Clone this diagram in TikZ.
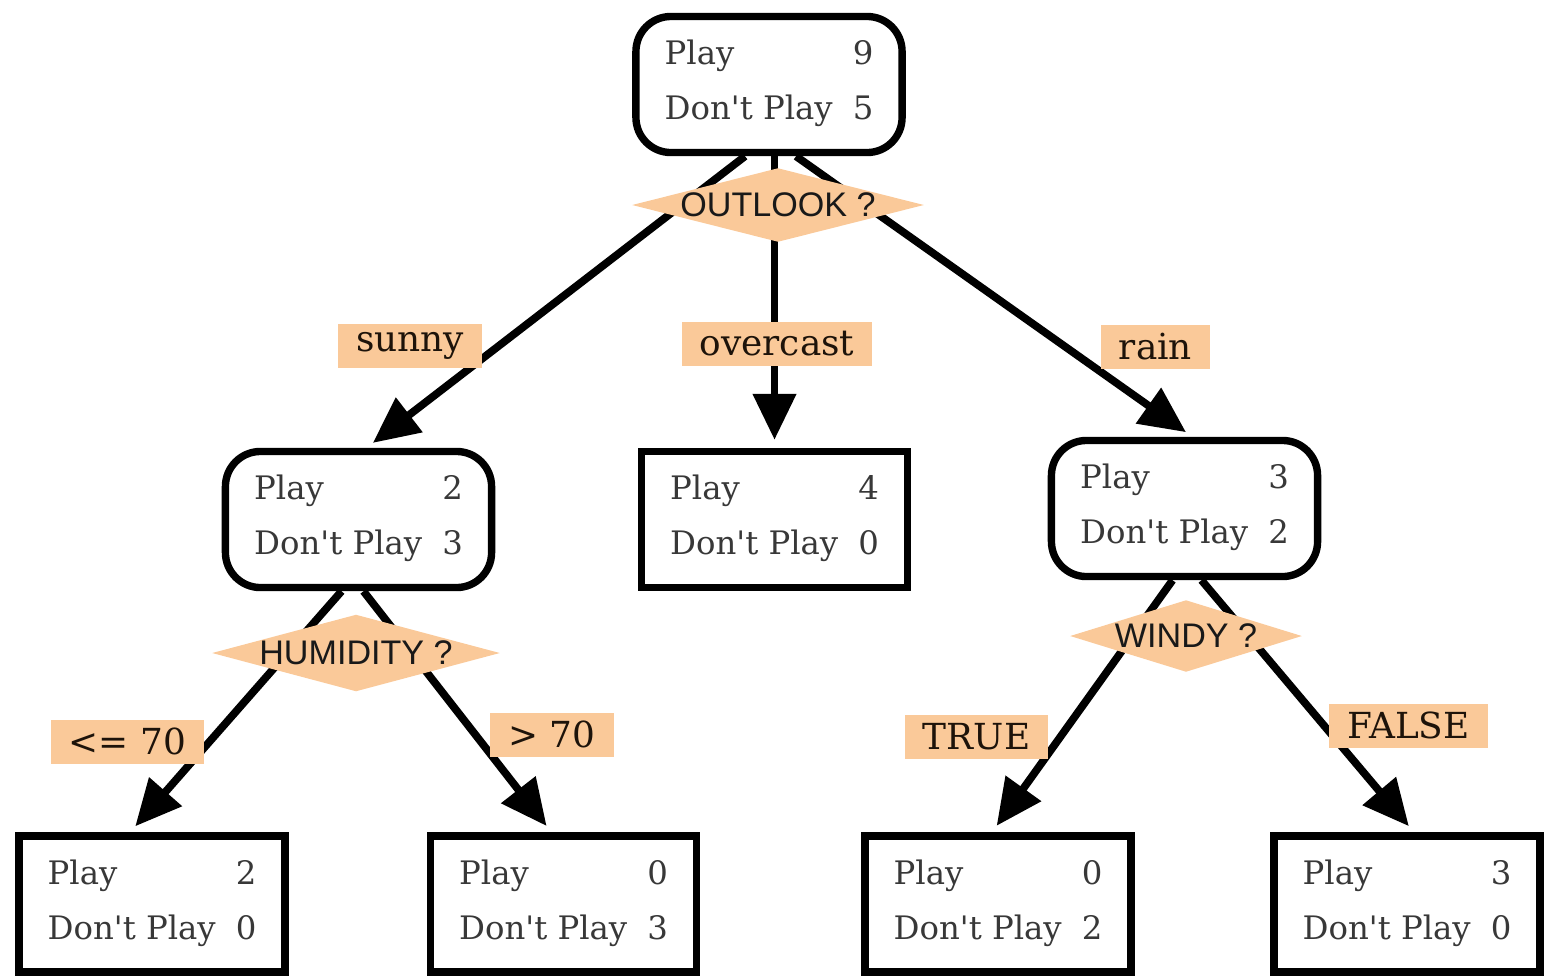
\documentclass[tikz,border=0pt]{standalone}
\usepackage{fontspec}
\setmainfont{DejaVu Serif}
\newfontfamily\choicefont{Liberation Sans}
\usetikzlibrary{shapes.geometric,arrows.meta,calc}
\definecolor{peach}{RGB}{250,201,153}
\newcommand{\tally}[2]{\begin{tabular}{@{}l@{\hspace{0.2cm}}r@{}}Play & #1\\[4.5pt] Don\textquotesingle t Play & #2\end{tabular}}

\begin{document}
\begin{tikzpicture}[x=0.01cm, y=-0.01cm,
    box/.style={draw, line width=2.1pt, minimum width=2.66cm, minimum height=1.36cm, inner sep=0pt, text=black!78, font=\fontsize{9.2}{11}\selectfont},
    split/.style={box, rounded corners=0.35cm},
    test/.style={diamond, fill=peach, inner sep=0pt},
    choice/.style={font=\choicefont\fontsize{9.7}{11}\selectfont, text=black!90},
    cond/.style={fill=peach, inner xsep=0.18cm, inner ysep=0pt, minimum height=0.44cm, text=black!85!brown, font=\fontsize{10.2}{12}\selectfont},
    branch/.style={line width=2.2pt, -{Triangle[length=0.46cm, width=0.42cm]}, shorten >=0.08cm}]
    \useasboundingbox (0,0) rectangle (1546,978);
    % Counts at each node
    \node[split] (root) at (769,84.5) {\tally{9}{5}};
    \node[split] (hl) at (358.5,519.5) {\tally{2}{3}};
    \node[box] (ov) at (774.5,519.5) {\tally{4}{0}};
    \node[split] (rn) at (1184.5,508.5) {\tally{3}{2}};
    \node[box] (l1) at (152,904) {\tally{2}{0}};
    \node[box] (l2) at (563.5,904) {\tally{0}{3}};
    \node[box] (l3) at (998,904) {\tally{0}{2}};
    \node[box] (l4) at (1407,904) {\tally{3}{0}};

    % Branches
    \draw[branch] ($(root.south)+(-24,0)$) -- ($(hl.north)+(8,0)$);
    \draw[branch] (root.south -| ov.north) -- (ov.north);
    \draw[branch] ($(root.south)+(27,0)$) -- ($(rn.north)+(8,0)$);
    \draw[branch] ($(hl.south)+(-17,0)$) -- ($(l1.north)+(-22,0)$);
    \draw[branch] ($(hl.south)+(5,0)$) -- ($(l2.north)+(-12,0)$);
    \draw[branch] ($(rn.south)+(-12,0)$) -- ($(l3.north)+(-6,0)$);
    \draw[branch] ($(rn.south)+(17,0)$) -- ($(l4.north)+(7,0)$);

    % Tests
    \node[test, minimum width=2.92cm, minimum height=0.74cm, label={[choice]center:OUTLOOK ?}] (outlook) at (778,205) {};
    \node[test, minimum width=2.88cm, minimum height=0.77cm, label={[choice]center:HUMIDITY ?}] (humidity) at (356,653) {};
    \node[test, minimum width=2.32cm, minimum height=0.72cm, label={[choice]center:WINDY ?}] (windy) at (1186,636) {};

    % Branch labels
    \node[cond] (sunny) at (410,346) {sunny};
    \node[cond] (overcast) at (777,344) {overcast};
    \node[cond] (rain) at (1155.5,346.5) {rain};
    \node[cond] (le70) at (127.5,741.5) {<= 70};
    \node[cond] (gt70) at (552,734.5) {> 70};
    \node[cond] (istrue) at (976.5,737) {TRUE};
    \node[cond] (isfalse) at (1408.5,725.5) {FALSE};
\end{tikzpicture}
\end{document}
